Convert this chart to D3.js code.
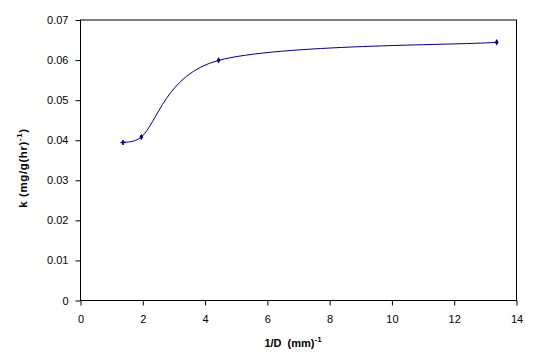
<!DOCTYPE html>
<html>
<head>
<meta charset="utf-8">
<script src="https://cdn.jsdelivr.net/npm/d3@7"></script>
<style>
  body { margin: 0; background: #fff; }
  text { font-family: "Liberation Sans", Arial, sans-serif; }
</style>
</head>
<body>
<svg id="chart" width="539" height="363"></svg>
<script>
// data
const invD = [1.38, 1.97, 4.45, 13.38];
const kVals = [0.0393, 0.0407, 0.0598, 0.0643];
const xTicks = [0, 2, 4, 6, 8, 10, 12, 14];
const yTicks = [0, 0.01, 0.02, 0.03, 0.04, 0.05, 0.06, 0.07];

const svg = d3.select("#chart");
const plotL = 80, plotR = 516, plotT = 19.5, plotB = 300;

const x = d3.scaleLinear().domain([0, 14]).range([plotL, plotR]);
const y = d3.scaleLinear().domain([0, 0.07]).range([plotB, plotT]);

// plot frame
svg.append("rect")
  .attr("x", plotL + 0.5).attr("y", plotT + 0.5)
  .attr("width", plotR - plotL).attr("height", plotB - plotT)
  .attr("fill", "none").attr("stroke", "#000").attr("stroke-width", 1);

const xAxis = d3.axisBottom(x).tickValues(xTicks).tickFormat(d3.format("d"))
  .tickSizeInner(5).tickSizeOuter(0).tickPadding(10);
svg.append("g")
  .attr("transform", "translate(0.5," + (plotB + 0.5) + ")")
  .call(xAxis)
  .call(g => g.select(".domain").remove())
  .call(g => g.selectAll("text").attr("font-size", 11).attr("font-family", "Liberation Sans, Arial"));

const yAxis = d3.axisLeft(y).tickValues(yTicks).tickFormat(d => d === 0 ? "0" : d3.format(".2f")(d))
  .tickSizeInner(5).tickSizeOuter(0).tickPadding(7);
svg.append("g")
  .attr("transform", "translate(" + (plotL + 0.5) + ",0.5)")
  .call(yAxis)
  .call(g => g.select(".domain").remove())
  .call(g => g.selectAll("text").attr("font-size", 11).attr("font-family", "Liberation Sans, Arial"));

// smoothed series line, Excel-style bezier (1/6 tension, arms capped at half a segment)
const pts = invD.map((d, i) => [x(d), y(kVals[i])]);
function dist(a, b) { return Math.hypot(a[0] - b[0], a[1] - b[1]); }
const p = d3.path();
p.moveTo(pts[0][0], pts[0][1]);
for (let i = 0; i < pts.length - 1; i++) {
  const p0 = pts[Math.max(i - 1, 0)], p1 = pts[i], p2 = pts[i + 1], p3 = pts[Math.min(i + 2, pts.length - 1)];
  const d12 = dist(p1, p2);
  const d02 = dist(p0, p2), d13 = dist(p1, p3);
  const f1 = Math.min(1 / 6, d12 / (2 * d02));
  const f2 = Math.min(1 / 6, d12 / (2 * d13));
  p.bezierCurveTo(
    p1[0] + (p2[0] - p0[0]) * f1, p1[1] + (p2[1] - p0[1]) * f1,
    p2[0] - (p3[0] - p1[0]) * f2, p2[1] - (p3[1] - p1[1]) * f2,
    p2[0], p2[1]);
}
svg.append("path")
  .attr("d", p.toString())
  .attr("fill", "none")
  .attr("stroke", "#000080")
  .attr("stroke-width", 1);

// markers
svg.selectAll("path.mark")
  .data(pts)
  .enter().append("path")
  .attr("class", "mark")
  .attr("transform", d => "translate(" + d[0] + "," + d[1] + ")")
  .attr("d", (d, i) => d3.symbol().type(i === 0 ? d3.symbolCross : d3.symbolDiamond).size(i === 0 ? 14 : 12)())
  .attr("fill", "#000080");

// axis titles
const xt = svg.append("text")
  .attr("x", 293).attr("y", 347)
  .attr("text-anchor", "middle")
  .attr("font-size", 11).attr("font-weight", "bold")
  .style("white-space", "pre");
xt.append("tspan").text("1/D  (mm)");
xt.append("tspan").attr("dy", -5).attr("font-size", 8).text("-1");

const yt = svg.append("text")
  .attr("transform", "translate(27,168) rotate(-90)")
  .attr("text-anchor", "middle")
  .attr("font-size", 11.5).attr("font-weight", "bold")
  .attr("letter-spacing", 0.6);
yt.append("tspan").text("k (mg/g(hr)");
yt.append("tspan").attr("dy", -5).attr("font-size", 8).text("-1");
yt.append("tspan").attr("dy", 5).text(")");
</script>
</body>
</html>
